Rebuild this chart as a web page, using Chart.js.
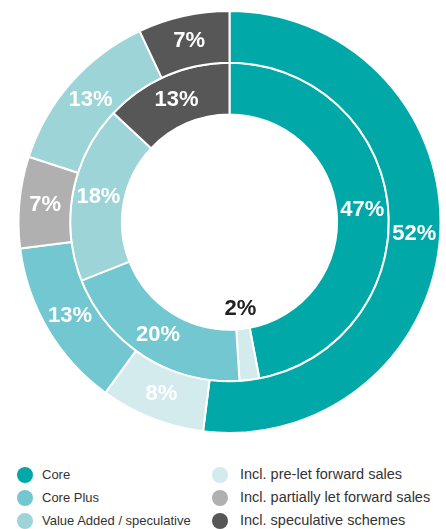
<!DOCTYPE html>
<html>
<head>
<meta charset="utf-8">
<script src="https://cdn.jsdelivr.net/npm/chart.js@4"></script>
<style>
    body { margin: 0; background: #fff; font-family: "Liberation Sans", Arial, sans-serif; }
    #wrap { position: absolute; left: 0; top: 0; width: 446px; height: 444px; }
    .legend { position: absolute; font-size: 13px; color: #333; }
    .legend div { position: absolute; white-space: nowrap; }
    .dot { position: absolute; width: 16px; height: 16px; border-radius: 50%; }
</style>
</head>
<body>
<div id="wrap"><canvas id="mixChart" width="446" height="444"></canvas></div>
<div id="legend"></div>
<script>
// categories in clockwise order from 12 o'clock
const categories = ["Core", "Incl. pre-let forward sales", "Core Plus", "Incl. partially let forward sales", "Value Added / speculative", "Incl. speculative schemes"];
const outerValues = [52, 8, 13, 7, 13, 7];
const innerValues = [47, 2, 20, 0, 18, 13];
const colors = ["#00a9a8", "#d3ebed", "#73c7d1", "#b0b0b0", "#9cd4d8", "#575757"];

// legend layout: left column, right column
const legendOrder = [
    [0, 2, 4],
    [1, 3, 5]
];

// draw value labels on the arcs; small slices go in the hole in black
const labelPlugin = {
    id: 'sliceLabels',
    afterDatasetsDraw(chart) {
        const ctx = chart.ctx;
        ctx.save();
        ctx.font = "bold 22px 'Liberation Sans', Arial, sans-serif";
        ctx.textAlign = "center";
        ctx.textBaseline = "middle";
        chart.data.datasets.forEach((ds, di) => {
            const meta = chart.getDatasetMeta(di);
            meta.data.forEach((arc, i) => {
                const v = ds.data[i];
                if (!v) return;
                const p = arc.getProps(['startAngle', 'endAngle', 'innerRadius', 'outerRadius', 'x', 'y'], true);
                const mid = (p.startAngle + p.endAngle) / 2;
                let r = (p.innerRadius + p.outerRadius) / 2;
                ctx.fillStyle = "#fff";
                if (v < 5) {
                    r = p.innerRadius - 20;
                    ctx.fillStyle = "#222";
                }
                ctx.fillText(v + "%", p.x + Math.cos(mid) * r, p.y + Math.sin(mid) * r);
            });
        });
        ctx.restore();
    }
};

new Chart(document.getElementById('mixChart'), {
    type: 'doughnut',
    data: {
        labels: categories,
        datasets: [
            {
                label: "Outer",
                data: outerValues,
                backgroundColor: colors,
                borderColor: "#fff",
                borderWidth: 2
            },
            {
                label: "Inner",
                data: innerValues,
                backgroundColor: colors,
                borderColor: "#fff",
                borderWidth: 2
            }
        ]
    },
    options: {
        responsive: false,
        animation: false,
        cutout: "51%",
        layout: { padding: { left: 13, right: 0, top: 10, bottom: 10 } },
        plugins: {
            legend: { display: false },
            tooltip: { enabled: false }
        }
    },
    plugins: [labelPlugin]
});

// html legend
const legendEl = document.getElementById('legend');
legendEl.className = 'legend';
const colX = [[17, 42], [212, 240]];
const colFont = [13, 14.5];
const rowY = [475, 498, 521];
legendOrder.forEach((col, c) => {
    col.forEach((idx, r) => {
        const dot = document.createElement('span');
        dot.className = 'dot';
        dot.style.left = colX[c][0] + 'px';
        dot.style.top = (rowY[r] - 8) + 'px';
        dot.style.background = colors[idx];
        legendEl.appendChild(dot);
        const t = document.createElement('div');
        t.textContent = categories[idx];
        t.style.fontSize = colFont[c] + 'px';
        t.style.left = colX[c][1] + 'px';
        t.style.top = (rowY[r] - colFont[c] * 0.6) + 'px';
        legendEl.appendChild(t);
    });
});
</script>
</body>
</html>
